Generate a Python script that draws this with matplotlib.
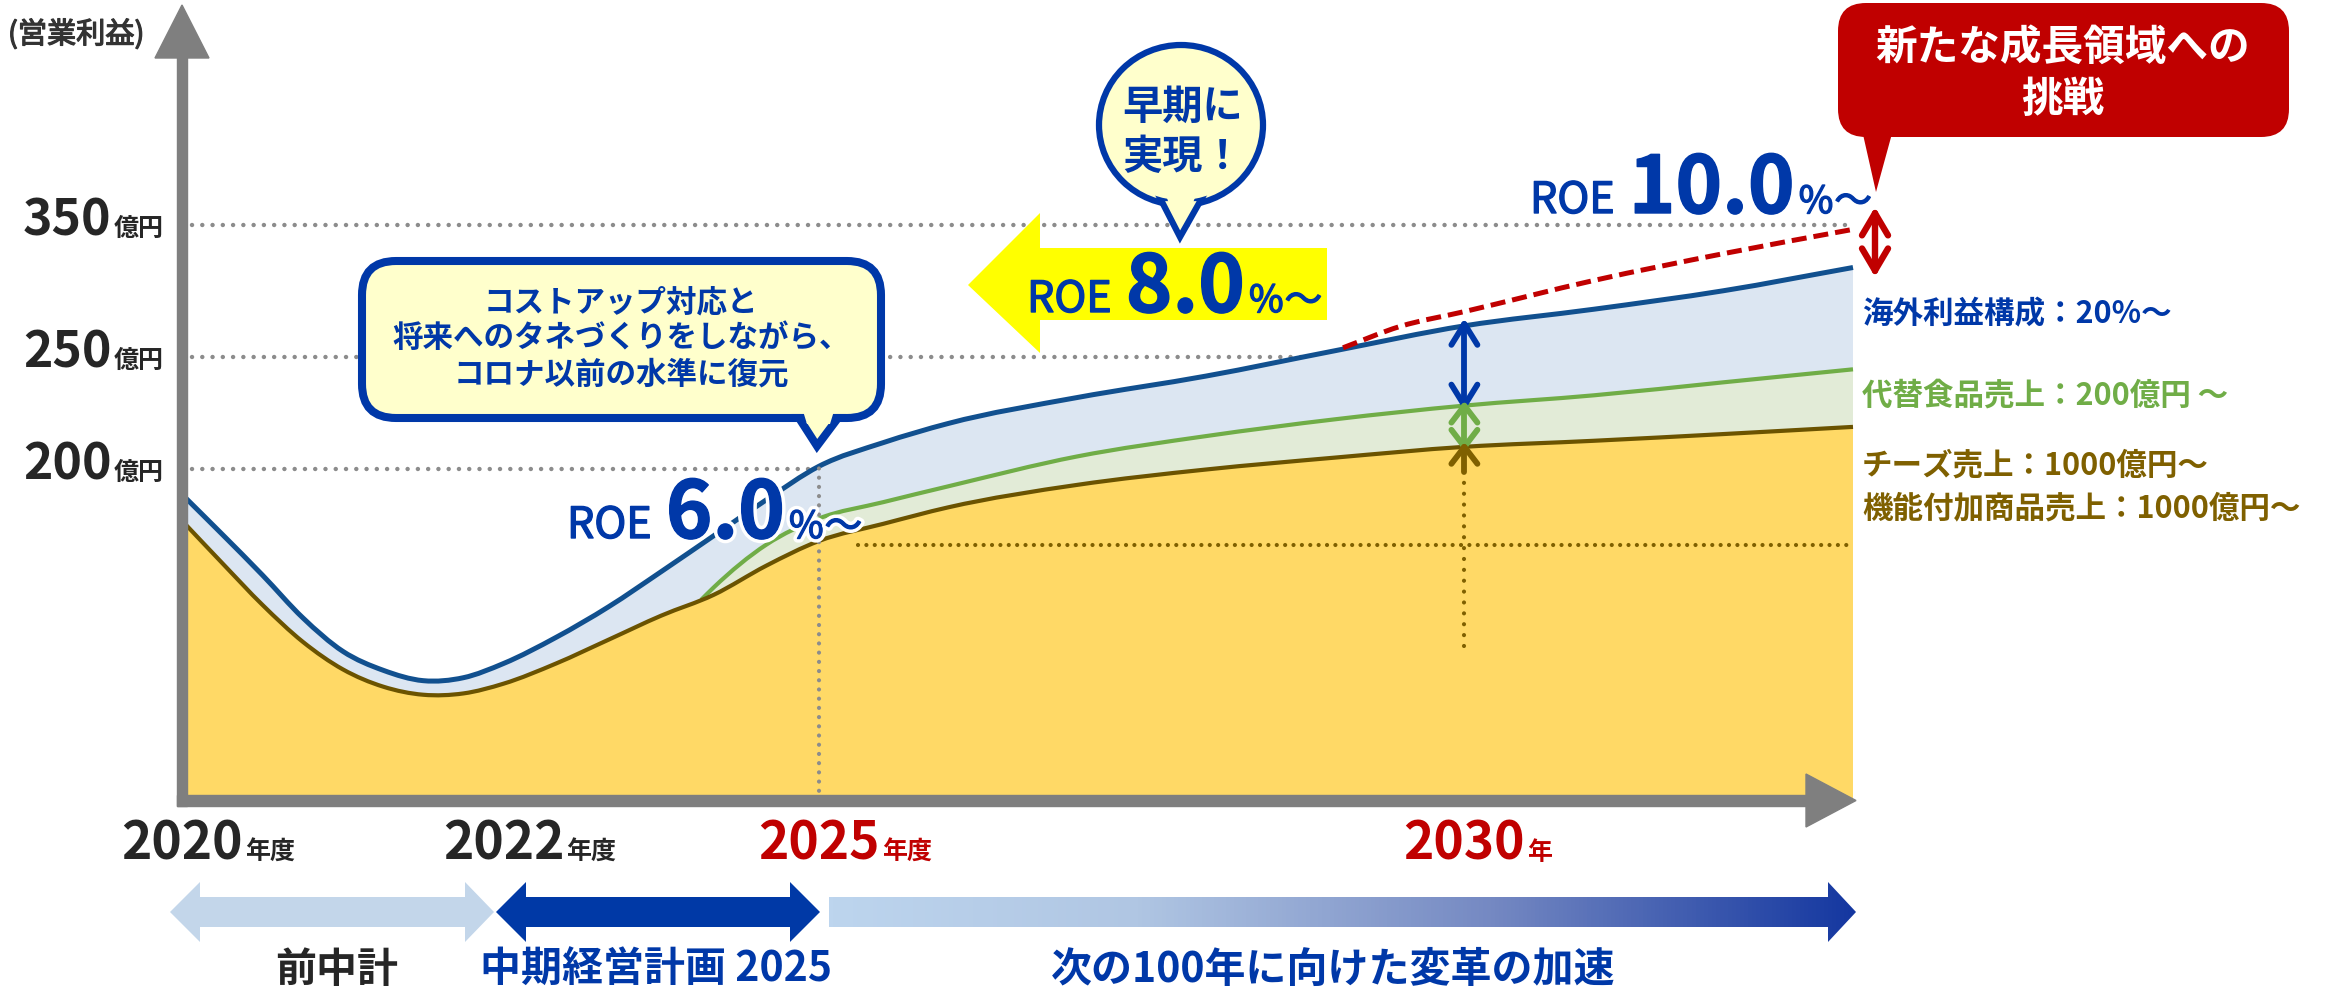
import numpy as np
import matplotlib
matplotlib.use("Agg")
import matplotlib.pyplot as plt
from matplotlib.patches import FancyBboxPatch, Polygon, Ellipse, Rectangle, PathPatch
from matplotlib.path import Path
from matplotlib.transforms import IdentityTransform
from matplotlib.colors import LinearSegmentedColormap
import matplotlib.patheffects as pe

plt.rcParams['font.family'] = ['Noto Sans CJK JP', 'DejaVu Sans']

# --- データ（年度 / 営業利益 億円、図から読み取った概略値）---
years = [2020.0, 2020.25, 2020.5, 2020.75, 2021.0, 2021.25, 2021.5, 2021.75,
         2022.0, 2022.5, 2023.0, 2023.5, 2024.0, 2024.5, 2025.0, 2025.5,
         2026, 2027, 2028, 2029, 2030, 2031, 2032, 2033]
total_profit = [184.5, 160.4, 135.8, 110.1, 89.8, 78.4, 72.1, 73.9,
                82.5, 98.3, 116.8, 138.0, 159.7, 181.4, 201.2, 211.8,
                220.3, 231.9, 241.5, 254.8, 273.6, 286.2, 300.2, 317.8]
core_profit = [168.6, 143.0, 117.8, 95.6, 78.9, 68.5, 63.6, 64.4,
               70.3, 82.5, 96.9, 111.4, 124.0, 141.6, 156.5, 166.9,
               176.8, 190.4, 199.7, 205.1, 209.9, 212.6, 215.6, 218.8]
alt_years = [2023.88, 2024.0, 2024.5, 2025.0, 2025.5, 2026, 2027, 2028,
             2029, 2030, 2031, 2032, 2033]
alt_profit = [121.0, 128.5, 154.3, 170.1, 180.0, 189.5, 205.6, 214.7,
              222.2, 228.3, 232.9, 238.7, 244.5]
new_years = [2029.06, 2029.5, 2030, 2031, 2032, 2033]
new_profit = [257.0, 273.1, 284.4, 308.0, 328.3, 346.7]

yticks = [350, 250, 200]
xticks = [2020, 2022, 2025, 2030]
xtick_labels = ['2020', '2022', '2025', '2030']
xtick_suffix = ['年度', '年度', '年度', '年']
xtick_colors = ['#262626', '#262626', '#C00000', '#C00000']
level_2025 = 154      # 2025年度の水準（茶の点線）
arrow_floor = 93

BLUE = '#0038A8'
LINE_BLUE = '#11508F'
GREEN = '#70AD47'
BROWN = '#7F6000'
LINE_BROWN = '#6B5300'
RED = '#C00000'
GRAY = '#7F7F7F'
DOT_GRAY = '#8C8C8C'
FILL_BLUE = '#DCE6F2'
FILL_GREEN = '#E2EBD7'
FILL_YEL = '#FFD966'
BOX_FILL = '#FFFFCC'

W, H = 2343, 991
fig = plt.figure(figsize=(W / 100, H / 100), dpi=100)

# 概念図なので目盛りは等間隔ではない -> 区分線形のスケール
yr_k = [2018.867, 2020, 2022, 2025, 2030, 2033, 2036.784]
px_k = [0, 182.3, 503.6, 818.9, 1464.4, 1853, W]
val_k = [-115.4, 0, 200, 250, 350, 520.5]
py_k = [0, 191, 522, 634, 766, H]

ax = fig.add_axes([0, 0, 1, 1])
ax.set_xscale('function', functions=(lambda v: np.interp(v, yr_k, px_k),
                                     lambda p: np.interp(p, px_k, yr_k)))
ax.set_yscale('function', functions=(lambda v: np.interp(v, val_k, py_k),
                                     lambda p: np.interp(p, py_k, val_k)))
ax.set_xlim(yr_k[0], yr_k[-1])
ax.set_ylim(val_k[0], val_k[-1])
ax.axis('off')
ax.set_zorder(1)

# 重ね描き用（ピクセル座標）
ov = fig.add_axes([0, 0, 1, 1])
ov.set_xlim(0, W)
ov.set_ylim(H, 0)
ov.axis('off')
ov.patch.set_visible(False)
ov.set_zorder(2)
inv = ov.transData.inverted()

dot = dict(dash_capstyle='round', solid_capstyle='round')


def smooth(xs, ys):
    # スムーズ線（エクセルの「平滑線」風）: 点を画面座標に変換してからベジェでつなぐ
    P = ax.transData.transform(np.column_stack([xs, ys]))
    x, y = P[:, 0], P[:, 1]
    n = len(x)
    m = np.empty(n)
    m[0] = (y[1] - y[0]) / (x[1] - x[0])
    m[-1] = (y[-1] - y[-2]) / (x[-1] - x[-2])
    for i in range(1, n - 1):
        d0 = (y[i] - y[i - 1]) / (x[i] - x[i - 1])
        d1 = (y[i + 1] - y[i]) / (x[i + 1] - x[i])
        w0, w1 = x[i + 1] - x[i], x[i] - x[i - 1]
        m[i] = (w0 * d0 + w1 * d1) / (w0 + w1)
    verts = [P[0]]
    codes = [Path.MOVETO]
    for i in range(n - 1):
        h = (x[i + 1] - x[i]) / 3
        verts += [(x[i] + h, y[i] + m[i] * h), (x[i + 1] - h, y[i + 1] - m[i + 1] * h), P[i + 1]]
        codes += [Path.CURVE4] * 3
    return verts, codes


base_px = ax.transData.transform((2020, 0))[1]


def area(xs, ys, color, z):
    v, c = smooth(xs, ys)
    v = v + [(v[-1][0], base_px), (v[0][0], base_px), v[0]]
    c = c + [Path.LINETO, Path.LINETO, Path.CLOSEPOLY]
    ax.add_artist(PathPatch(Path(v, c), transform=IdentityTransform(), fc=color, ec='none', zorder=z))


def curve(xs, ys, color, lw, z, ls='-'):
    v, c = smooth(xs, ys)
    ax.add_artist(PathPatch(Path(v, c), transform=IdentityTransform(), fill=False, ec=color,
                            lw=lw, ls=ls, zorder=z, capstyle='butt', joinstyle='round'))


# グリッド（点線）
for v in yticks:
    ax.plot([2020.06, 2032.95], [v, v], color=DOT_GRAY, lw=3.2,
            linestyle=(0, (0.01, 2.3)), zorder=1, **dot)

# 面
area(years, total_profit, FILL_BLUE, 2)
area(alt_years, alt_profit, FILL_GREEN, 3)
area(years, core_profit, FILL_YEL, 4)

# 線
curve(years, total_profit, LINE_BLUE, 3.6, 6)
curve(alt_years, alt_profit, GREEN, 3.0, 5)
curve(years, core_profit, LINE_BROWN, 3.0, 6)
curve(new_years, new_profit, RED, 3.6, 6, ls=(0, (3, 1.4)))

# 補助線
i25 = years.index(2025.0)
i30 = years.index(2030)
j30 = alt_years.index(2030)
ax.plot([2025, 2025], [0, total_profit[i25]], color=DOT_GRAY, lw=3.0,
        linestyle=(0, (0.01, 2.2)), zorder=7, **dot)
ax.plot([2025.3, 2033], [level_2025, level_2025], color=BROWN, lw=3.0,
        linestyle=(0, (0.01, 2.0)), zorder=7, **dot)
ax.plot([2030, 2030], [arrow_floor, core_profit[i30] - 6], color=BROWN, lw=3.0,
        linestyle=(0, (0.01, 2.6)), zorder=7, **dot)


def px(x, v):
    return inv.transform(ax.transData.transform((x, v)))


def arrow(x, v_top, v_bot, color, hl=21, hw=13, top=True, bottom=True, pad_top=0, pad_bot=0, lw=4.2):
    # 矢印（開いた山形の矢じり）を画面上で描く
    xp, yt = px(x, v_top)
    _, yb = px(x, v_bot)
    yt -= pad_top
    yb += pad_bot
    kw = dict(color=color, lw=lw, solid_capstyle='round', solid_joinstyle='round', zorder=8)
    ov.plot([xp, xp], [yt, yb], **kw)
    if top:
        ov.plot([xp - hw, xp, xp + hw], [yt + hl, yt, yt + hl], **kw)
    if bottom:
        ov.plot([xp - hw, xp, xp + hw], [yb - hl, yb, yb - hl], **kw)


arrow(2030, total_profit[i30], alt_profit[j30], BLUE, pad_top=2)
arrow(2030, alt_profit[j30], core_profit[i30], GREEN, hl=17)
arrow(2030, core_profit[i30], core_profit[i30] - 12, BROWN, hl=17, bottom=False)
arrow(2033.17, new_profit[-1], total_profit[-1], RED, hl=22, hw=13, pad_top=16, pad_bot=3, lw=4.6)

# 軸（灰色の矢印）
ov.add_patch(Rectangle((177, 57), 10, 749, color=GRAY, zorder=3))
ov.add_patch(Polygon([(182, 5), (155, 58), (209, 58)], color=GRAY, zorder=3))
ov.add_patch(Rectangle((177, 795), 1630, 11, color=GRAY, zorder=3))
ov.add_patch(Polygon([(1856, 800.5), (1806, 774), (1806, 827)], color=GRAY, zorder=3))

R = fig.canvas.get_renderer()


def chain(x, y, parts, first_ha='left', **kw):
    ha = first_ha
    for s, size, weight, gap in parts:
        t = ov.text(x, y, s, fontsize=size, fontweight=weight, ha=ha,
                    va='baseline', **kw)
        bb = t.get_window_extent(R)
        x = inv.transform((bb.x1, bb.y0))[0] + gap
        ha = 'left'


# y目盛り
for v in yticks:
    ypx = px(2020, v)[1] + 11
    chain(23, ypx, [(str(v), 36, 'bold', 2), ('億円', 18, 'bold', 0)], color='#262626')

# x目盛り
for yr, lab, suf, c in zip(xticks, xtick_labels, xtick_suffix, xtick_colors):
    chain(px(yr, 0)[0], 860, [(lab, 37, 'bold', 2), (suf, 18, 'bold', 0)], first_ha='center', color=c)

ov.text(8, 35, '(営業利益)', fontsize=21, va='center', ha='left', color='#333333',
        path_effects=[pe.withStroke(linewidth=0.9, foreground='#333333')])

# 吹き出し1
ov.add_patch(FancyBboxPatch((362, 261), 519, 157, boxstyle='round,pad=0,rounding_size=34',
                            fc=BOX_FILL, ec=BLUE, lw=5.8, zorder=4))
ov.add_patch(Polygon([(799, 418), (817, 446), (838, 418)], fc=BOX_FILL, ec=BLUE, lw=5.8,
                     joinstyle='miter', zorder=4))
ov.add_patch(Polygon([(803, 411), (834, 411), (830, 424), (807, 424)], fc=BOX_FILL, ec='none', zorder=4))
for s, yy in zip(['コストアップ対応と', '将来へのタネづくりをしながら、', 'コロナ以前の水準に復元'], [302, 338, 375]):
    ov.text(621, yy, s, fontsize=22, fontweight='bold', color=BLUE, ha='center', va='center', zorder=5)

# 吹き出し2（楕円）
ov.add_patch(Ellipse((1181, 125), 164, 160, fc=BOX_FILL, ec=BLUE, lw=4.5, zorder=4))
ov.add_patch(Polygon([(1160, 198), (1180, 237), (1202, 198)], fc=BOX_FILL, ec=BLUE, lw=4.5,
                     joinstyle='miter', zorder=4))
ov.add_patch(Ellipse((1181, 125), 154, 150, fc=BOX_FILL, ec='none', zorder=4))
ov.add_patch(Polygon([(1166, 195), (1196, 195), (1189, 213), (1172, 213)], fc=BOX_FILL, ec='none', zorder=4))
ov.text(1183, 107, '早期に', fontsize=29, fontweight='bold', color=BLUE, ha='center', va='center', zorder=5)
ov.text(1183, 157, '実現！', fontsize=29, fontweight='bold', color=BLUE, ha='center', va='center', zorder=5)

# 黄色の矢印
ov.add_patch(Polygon([(968, 285), (1040, 213), (1040, 248), (1327, 248), (1327, 320),
                      (1040, 320), (1040, 353)], fc='#FFFF00', ec='none', zorder=4))


# ROE
def roe(x, y, num, halo=False):
    thick = pe.withStroke(linewidth=1.0, foreground=BLUE)
    kw = dict(color=BLUE, zorder=6)
    if halo:
        kw['path_effects'] = [pe.withStroke(linewidth=6, foreground='white'), thick]
    else:
        kw['path_effects'] = [thick]
    chain(x, y, [('ROE', 31, 'normal', 14), (num, 57, 'bold', 4), ('%', 27, 'normal', 1),
                 ('～', 27, 'normal', 0)], **kw)


roe(567, 538, '6.0', halo=True)
roe(1027, 312, '8.0')
roe(1530, 213, '10.0')

# 赤い吹き出し
ov.add_patch(FancyBboxPatch((1838, 3), 451, 134, boxstyle='round,pad=0,rounding_size=28',
                            fc=RED, ec='none', zorder=4))
ov.add_patch(Polygon([(1862, 130), (1893, 130), (1876, 192)], fc=RED, ec='none', zorder=4))
ov.text(2063, 48, '新たな成長領域への', fontsize=30, fontweight='bold', color='white',
        ha='center', va='center', zorder=5)
ov.text(2063, 100, '挑戦', fontsize=30, fontweight='bold', color='white',
        ha='center', va='center', zorder=5)

# 右側の説明
notes = [('海外利益構成：20%～', BLUE, 314), ('代替食品売上：200億円 ～', GREEN, 396),
         ('チーズ売上：1000億円～', BROWN, 466), ('機能付加商品売上：1000億円～', BROWN, 508)]
for s, c, yy in notes:
    ov.text(1862, yy, s, fontsize=22, fontweight='bold', color=c, ha='left', va='center')

# 下の期間矢印
ov.add_patch(Polygon([(170, 912), (200, 882), (200, 897), (465, 897), (465, 882), (494, 912),
                      (465, 942), (465, 927), (200, 927), (200, 942)], fc='#C3D6EA', ec='none'))
ov.add_patch(Polygon([(496, 912), (526, 882), (526, 897), (790, 897), (790, 882), (820, 912),
                      (790, 942), (790, 927), (526, 927), (526, 942)], fc='#0039A6', ec='none'))
grad = Polygon([(829, 897), (1828, 897), (1828, 882), (1856, 912), (1828, 942), (1828, 927),
                (829, 927)], fc='none', ec='none')
ov.add_patch(grad)
cmap = LinearSegmentedColormap.from_list('g', [(0, '#BDD5EE'), (0.3, '#B0C6E3'),
                                               (0.65, '#7488C2'), (1, '#1437A0')])
img = ov.imshow(np.linspace(0, 1, 256)[None, :], cmap=cmap, extent=(829, 1856, 942, 882),
                aspect='auto', zorder=2)
img.set_clip_path(grad)

ov.text(337, 970, '前中計', fontsize=29.5, fontweight='bold', color='#262626', ha='center', va='center')
ov.text(656, 970, '中期経営計画 2025', fontsize=29.5, fontweight='bold', color=BLUE, ha='center', va='center')
ov.text(1333, 970, '次の100年に向けた変革の加速', fontsize=29.5, fontweight='bold', color=BLUE,
        ha='center', va='center')

ov.set_xlim(0, W)
ov.set_ylim(H, 0)

fig.savefig('out.png', dpi=100)
